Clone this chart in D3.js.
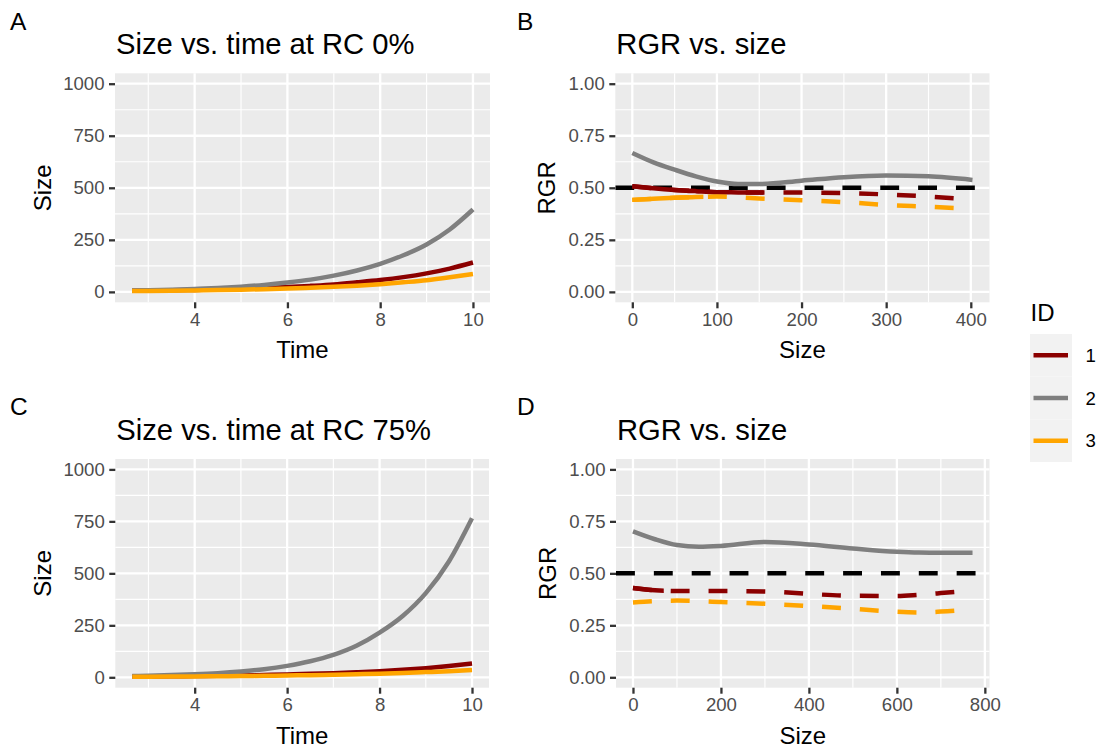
<!DOCTYPE html>
<html><head><meta charset="utf-8">
<script src="https://cdn.jsdelivr.net/npm/d3@7"></script>
<style>
html,body{margin:0;padding:0;background:#fff;}
svg{display:block;font-family:"Liberation Sans",Arial,sans-serif;}
</style></head>
<body>
<svg id="chart" width="1097" height="750"></svg>
<script>
// ---------------- data ----------------
const ids = ["1", "2", "3"];
const idColors = ["#8B0000", "#7F7F7F", "#FFA500"];

const times = [2.65, 3, 3.5, 4, 4.5, 5, 5.5, 6, 6.5, 7, 7.5, 8, 8.5, 9, 9.5, 10];
// Panel A: size vs time at RC 0%
const sizeA1 = [5, 5.8, 7.4, 9.4, 11.9, 15, 18.6, 23, 29, 36, 46, 57, 71, 89, 112, 141];
const sizeA2 = [7, 8, 10.5, 14, 18.5, 25, 33.5, 45, 59, 78, 103, 135, 176, 228, 300, 396];
const sizeA3 = [3.8, 4.4, 5.5, 6.8, 8.5, 10.5, 13, 16, 20, 24.5, 30, 37, 46, 56, 70, 86];
// Panel C: size vs time at RC 75%
const sizeC1 = [3.5, 4, 4.9, 6, 7.3, 9, 11, 13.5, 16.5, 20, 24.3, 29.5, 36, 44, 54, 66];
const sizeC2 = [6, 7.5, 10.5, 14.5, 20, 28, 39, 55, 77, 108, 152, 215, 295, 405, 557, 765];
const sizeC3 = [2.8, 3.1, 3.7, 4.4, 5.2, 6.2, 7.4, 8.8, 10.4, 12.4, 14.7, 17.5, 21, 25, 29.5, 35];

// Panel B: RGR vs size (RC 0%)
const sizesB = [0, 25, 50, 75, 100, 125, 150, 200, 250, 300, 350, 402];
const rgrB1 = [0.508, 0.498, 0.490, 0.484, 0.479, 0.478, 0.477, 0.477, 0.475, 0.468, 0.458, 0.443];
const rgrB2 = [0.667, 0.622, 0.587, 0.555, 0.530, 0.518, 0.518, 0.534, 0.551, 0.559, 0.555, 0.538];
const rgrB3 = [0.442, 0.447, 0.452, 0.456, 0.458, 0.454, 0.449, 0.440, 0.431, 0.418, 0.409, 0.398];
// Panel D: RGR vs size (RC 75%)
const sizesD = [0, 50, 100, 150, 200, 300, 400, 500, 600, 650, 700, 772];
const rgrD1 = [0.430, 0.419, 0.415, 0.415, 0.415, 0.413, 0.401, 0.392, 0.391, 0.397, 0.405, 0.418];
const rgrD2 = [0.702, 0.664, 0.636, 0.628, 0.632, 0.651, 0.639, 0.620, 0.604, 0.600, 0.599, 0.599];
const rgrD3 = [0.360, 0.366, 0.369, 0.366, 0.362, 0.354, 0.343, 0.330, 0.315, 0.312, 0.316, 0.327];
// size range over which each dashed RGR curve renders as continuous
const denseUntilB = [155, 0, 84];
const denseUntilD = [70, 0, 0];
const refRGR = 0.5;

const sizeTicks = [0, 250, 500, 750, 1000];
const sizeMinor = [125, 375, 625, 875];
const timeTicks = [4, 6, 8, 10];
const timeMinor = [3, 5, 7, 9];
const rgrTicks = [0, 0.25, 0.5, 0.75, 1];
const rgrMinor = [0.125, 0.375, 0.625, 0.875];
const sizeTicksB = [0, 100, 200, 300, 400];
const sizeMinorB = [50, 150, 250, 350];
const sizeTicksD = [0, 200, 400, 600, 800];
const sizeMinorD = [100, 300, 500, 700];

// ---------------- drawing ----------------
const svg = d3.select("#chart");
const LW = 4.5, DASH = "18.9,18.95";
const TICKCOL = "#333333", TICKTXT = "#4D4D4D";

function expand(lo, hi) { const d = (hi - lo) * 0.05; return [lo - d, hi + d]; }

function panel(cfg) {
  const g = svg.append("g");
  const {x0, x1, y0, y1} = cfg.box;
  const x = d3.scaleLinear().domain(cfg.xDomain).range([x0, x1]);
  const y = d3.scaleLinear().domain(cfg.yDomain).range([y1, y0]);
  const clipId = "clip" + cfg.tag;
  svg.append("clipPath").attr("id", clipId).append("rect")
    .attr("x", x0).attr("y", y0).attr("width", x1 - x0).attr("height", y1 - y0);

  g.append("rect").attr("x", x0).attr("y", y0).attr("width", x1 - x0).attr("height", y1 - y0).attr("fill", "#EBEBEB");
  // minor grid
  g.selectAll(".mx").data(cfg.xMinor).join("line").attr("x1", d => x(d)).attr("x2", d => x(d))
    .attr("y1", y0).attr("y2", y1).attr("stroke", "#fff").attr("stroke-width", 1.15);
  g.selectAll(".my").data(cfg.yMinor).join("line").attr("y1", d => y(d)).attr("y2", d => y(d))
    .attr("x1", x0).attr("x2", x1).attr("stroke", "#fff").attr("stroke-width", 1.15);
  // major grid
  g.selectAll(".gx").data(cfg.xTicks).join("line").attr("x1", d => x(d)).attr("x2", d => x(d))
    .attr("y1", y0).attr("y2", y1).attr("stroke", "#fff").attr("stroke-width", 2.3);
  g.selectAll(".gy").data(cfg.yTicks).join("line").attr("y1", d => y(d)).attr("y2", d => y(d))
    .attr("x1", x0).attr("x2", x1).attr("stroke", "#fff").attr("stroke-width", 2.3);

  // axes
  const xa = g.append("g").attr("transform", `translate(0,${y1})`)
    .call(d3.axisBottom(x).tickValues(cfg.xTicks).tickFormat(cfg.xFmt).tickSize(6).tickPadding(4));
  const ya = g.append("g").attr("transform", `translate(${x0},0)`)
    .call(d3.axisLeft(y).tickValues(cfg.yTicks).tickFormat(cfg.yFmt).tickSize(6).tickPadding(4.5));
  [xa, ya].forEach(a => {
    a.select(".domain").remove();
    a.selectAll(".tick line").attr("stroke", TICKCOL).attr("stroke-width", 2.3);
    a.selectAll(".tick text").attr("fill", TICKTXT).attr("font-size", 18.6)
      .attr("font-family", "Liberation Sans, Arial, sans-serif");
  });
  xa.selectAll(".tick text").attr("dy", "0.72em");

  const plot = g.append("g").attr("clip-path", `url(#${clipId})`);
  const line = d3.line().x(d => x(d[0])).y(d => y(d[1])).curve(d3.curveMonotoneX);

  if (cfg.hline !== undefined) {
    plot.append("line").attr("x1", x0).attr("x2", x1).attr("y1", y(cfg.hline)).attr("y2", y(cfg.hline))
      .attr("stroke", "#000").attr("stroke-width", LW).attr("stroke-dasharray", DASH);
  }
  cfg.series.forEach((s, i) => {
    const pts = s.xs.map((v, k) => [v, s.ys[k]]);
    const dashed = cfg.dashed && i !== 1;
    plot.append("path").attr("d", line(pts)).attr("fill", "none")
      .attr("stroke", idColors[i]).attr("stroke-width", LW)
      .attr("stroke-dasharray", dashed ? DASH : null);
    if (dashed && cfg.dense && cfg.dense[i] > 0) {
      const cid = clipId + "d" + i;
      svg.append("clipPath").attr("id", cid).append("rect")
        .attr("x", x0).attr("y", y0).attr("width", x(cfg.dense[i]) - x0).attr("height", y1 - y0);
      plot.append("g").attr("clip-path", `url(#${cid})`).append("path").attr("d", line(pts))
        .attr("fill", "none").attr("stroke", idColors[i]).attr("stroke-width", LW);
    }
  });

  // texts
  svg.append("text").attr("x", cfg.tagPos[0]).attr("y", cfg.tagPos[1]).attr("font-size", 24.5).attr("fill", "#000").text(cfg.tag);
  svg.append("text").attr("x", x0 + 1).attr("y", y0 - 19).attr("font-size", 29.2).attr("fill", "#000").text(cfg.title);
  svg.append("text").attr("x", (x0 + x1) / 2).attr("y", y1 + 56).attr("text-anchor", "middle")
    .attr("font-size", 24).attr("fill", "#000").text(cfg.xTitle);
  svg.append("text").attr("transform", `translate(${cfg.yTitleX},${(y0 + y1) / 2}) rotate(-90)`)
    .attr("text-anchor", "middle").attr("font-size", 24).attr("fill", "#000").text(cfg.yTitle);
}

const sizeFmt = d3.format("d");
const rgrFmt = d3.format(".2f");
const timeFmt = d3.format("d");

panel({
  tag: "A", tagPos: [10, 29.5], title: "Size vs. time at RC 0%",
  box: {x0: 115, x1: 490, y0: 73.3, y1: 302.3},
  xDomain: expand(d3.min(times), d3.max(times)), yDomain: expand(0, 1000),
  xTicks: timeTicks, xMinor: timeMinor, yTicks: sizeTicks, yMinor: sizeMinor,
  xFmt: timeFmt, yFmt: sizeFmt, xTitle: "Time", yTitle: "Size", yTitleX: 50.5,
  series: [sizeA1, sizeA2, sizeA3].map(v => ({xs: times, ys: v}))
});
panel({
  tag: "B", tagPos: [517, 29.5], title: "RGR vs. size",
  box: {x0: 615.3, x1: 989.5, y0: 73.3, y1: 302.3},
  xDomain: expand(0, d3.max(sizesB)), yDomain: expand(0, 1),
  xTicks: sizeTicksB, xMinor: sizeMinorB, yTicks: rgrTicks, yMinor: rgrMinor,
  xFmt: sizeFmt, yFmt: rgrFmt, xTitle: "Size", yTitle: "RGR", yTitleX: 555,
  hline: refRGR, dashed: true, dense: denseUntilB,
  series: [rgrB1, rgrB2, rgrB3].map(v => ({xs: sizesB, ys: v}))
});
panel({
  tag: "C", tagPos: [10, 415], title: "Size vs. time at RC 75%",
  box: {x0: 115.3, x1: 489, y0: 459, y1: 687.7},
  xDomain: expand(d3.min(times), d3.max(times)), yDomain: expand(0, 1000),
  xTicks: timeTicks, xMinor: timeMinor, yTicks: sizeTicks, yMinor: sizeMinor,
  xFmt: timeFmt, yFmt: sizeFmt, xTitle: "Time", yTitle: "Size", yTitleX: 50.5,
  series: [sizeC1, sizeC2, sizeC3].map(v => ({xs: times, ys: v}))
});
panel({
  tag: "D", tagPos: [517, 414.5], title: "RGR vs. size",
  box: {x0: 616, x1: 989.5, y0: 459, y1: 687.7},
  xDomain: expand(0, d3.max(sizesD)), yDomain: expand(0, 1),
  xTicks: sizeTicksD, xMinor: sizeMinorD, yTicks: rgrTicks, yMinor: rgrMinor,
  xFmt: sizeFmt, yFmt: rgrFmt, xTitle: "Size", yTitle: "RGR", yTitleX: 556,
  hline: refRGR, dashed: true, dense: denseUntilD,
  series: [rgrD1, rgrD2, rgrD3].map(v => ({xs: sizesD, ys: v}))
});

// legend
const leg = svg.append("g");
leg.append("text").attr("x", 1030.5).attr("y", 320.7).attr("font-size", 24).attr("fill", "#000").text("ID");
const keyY = d3.scaleBand().domain(ids).range([334, 462]);
leg.selectAll(".kbg").data(ids).join("rect").attr("x", 1030).attr("y", d => keyY(d))
  .attr("width", 42).attr("height", keyY.bandwidth()).attr("fill", "#F2F2F2");
leg.selectAll(".kl").data(ids).join("line").attr("x1", 1033.5).attr("x2", 1068)
  .attr("y1", d => keyY(d) + keyY.bandwidth() / 2).attr("y2", d => keyY(d) + keyY.bandwidth() / 2)
  .attr("stroke", (d, i) => idColors[i]).attr("stroke-width", LW);
leg.selectAll(".kt").data(ids).join("text").attr("x", 1085.5)
  .attr("y", d => keyY(d) + keyY.bandwidth() / 2).attr("dy", "0.36em")
  .attr("font-size", 18.6).attr("fill", "#000").text(d => d);
</script>
</body></html>
